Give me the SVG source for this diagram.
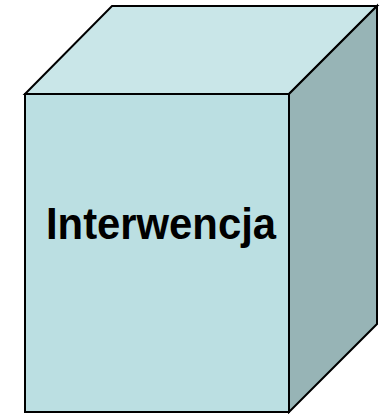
<svg xmlns="http://www.w3.org/2000/svg" width="383" height="414" viewBox="0 0 383 414">
<style>
.f{stroke:#000;stroke-width:2;stroke-linejoin:miter}
.t{font-family:"Liberation Sans",Arial,sans-serif;font-weight:bold;font-size:44px;fill:#000;text-anchor:middle}
</style>
<rect width="383" height="414" fill="#fff"/>
<g id="cube">
<polygon class="f" points="25,94 112,6 377,6 289,94" fill="#C9E6E8"/>
<polygon class="f" points="289,94 377,6 377,324 289,412" fill="#97B4B6"/>
<rect class="f" x="25" y="94" width="264" height="318" fill="#BBDFE2"/>
<text class="t" x="161" y="239" textLength="230" lengthAdjust="spacingAndGlyphs">Interwencja</text>
</g>
</svg>
